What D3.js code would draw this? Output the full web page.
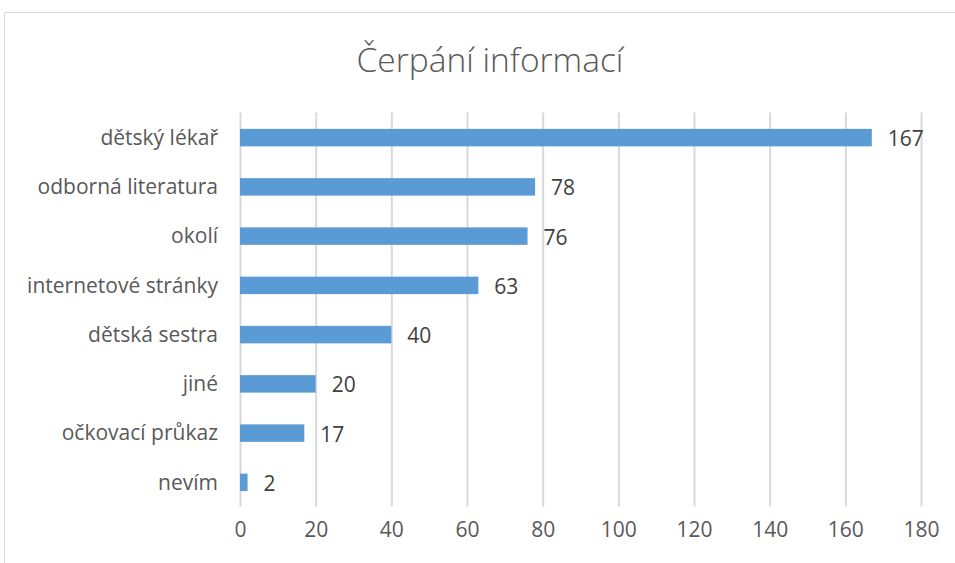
<!DOCTYPE html>
<html>
<head>
<meta charset="utf-8">
<script src="https://cdn.jsdelivr.net/npm/d3@7"></script>
<style>
  body { margin: 0; background: #fff; }
  svg { display: block; font-family: "Open Sans", "Noto Sans", sans-serif; }
</style>
</head>
<body>
<svg id="chart"></svg>
<script>
const categories = ['dětský lékař', 'odborná literatura', 'okolí', 'internetové stránky',
  'dětská sestra', 'jiné', 'očkovací průkaz', 'nevím']
const values = [167, 78, 76, 63, 40, 20, 17, 2]
const xTicks = [0, 20, 40, 60, 80, 100, 120, 140, 160, 180]
const title = 'Čerpání informací'

const width = 955, height = 563
const margin = {top: 113, right: 34, bottom: 56, left: 240}

const svg = d3.select('#chart')
  .attr('width', width)
  .attr('height', height)

// chart frame (cut off at right/bottom like the screenshot)
svg.append('rect')
  .attr('x', 4.5).attr('y', 12.5)
  .attr('width', width + 10).attr('height', height + 10)
  .attr('fill', '#fff')
  .attr('stroke', '#d9d9d9')

const x = d3.scaleLinear().domain([0, 180]).range([margin.left, width - margin.right])
const y = d3.scaleBand().domain(categories)
  .range([margin.top, height - margin.bottom])
  .paddingInner(0.645).paddingOuter(0.3225)

// fit a text node to a target width by adjusting its font size
function fitWidth(sel, target) {
  const node = sel.node()
  const fs = parseFloat(sel.attr('font-size'))
  const w = node.getComputedTextLength()
  sel.attr('font-size', (fs * target / w).toFixed(2))
}

// grid
const axis = d3.axisBottom(x).tickValues(xTicks).tickSize(-(height - margin.bottom - margin.top)).tickPadding(12)
const gx = svg.append('g')
  .attr('transform', `translate(0,${height - margin.bottom - 0.5})`)
  .call(axis)
gx.select('.domain').remove()
gx.selectAll('line').attr('stroke', '#d9d9d9').attr('stroke-width', 2)
gx.selectAll('text')
  .attr('fill', '#595959')
  .attr('font-size', 17)
  .attr('font-family', '"Open Sans", sans-serif')
  .attr('dy', '0.9em')

// bars
svg.append('g').selectAll('rect')
  .data(values)
  .join('rect')
  .attr('x', x(0))
  .attr('y', (d, i) => y(categories[i]))
  .attr('width', d => x(d) - x(0))
  .attr('height', y.bandwidth())
  .attr('fill', '#5b9bd5')

// category labels
const catLabels = svg.append('g').selectAll('text')
  .data(categories)
  .join('text')
  .attr('x', 218)
  .attr('y', d => y(d) + y.bandwidth() / 2)
  .attr('dy', '0.35em')
  .attr('text-anchor', 'end')
  .attr('fill', '#595959')
  .attr('font-size', 17)
  .text(d => d)

// size labels so the widest one matches the reference
const widest = catLabels.filter(d => d === 'internetové stránky')
const fs0 = 17, w0 = widest.node().getComputedTextLength()
const catSize = (fs0 * 191 / w0).toFixed(2)
catLabels.attr('font-size', catSize)

// value labels
svg.append('g').selectAll('text')
  .data(values)
  .join('text')
  .attr('x', d => x(d) + 16)
  .attr('y', (d, i) => y(categories[i]) + y.bandwidth() / 2)
  .attr('dy', '0.4em')
  .attr('fill', '#404040')
  .attr('font-size', catSize)
  .text(d => d)

gx.selectAll('text').attr('font-size', catSize)

// title
const t = svg.append('text')
  .attr('x', 490)
  .attr('y', 72)
  .attr('text-anchor', 'middle')
  .attr('fill', '#595959')
  .attr('font-size', 30)
  .attr('font-weight', 300)
  .text(title)
fitWidth(t, 267)
</script>
</body>
</html>
